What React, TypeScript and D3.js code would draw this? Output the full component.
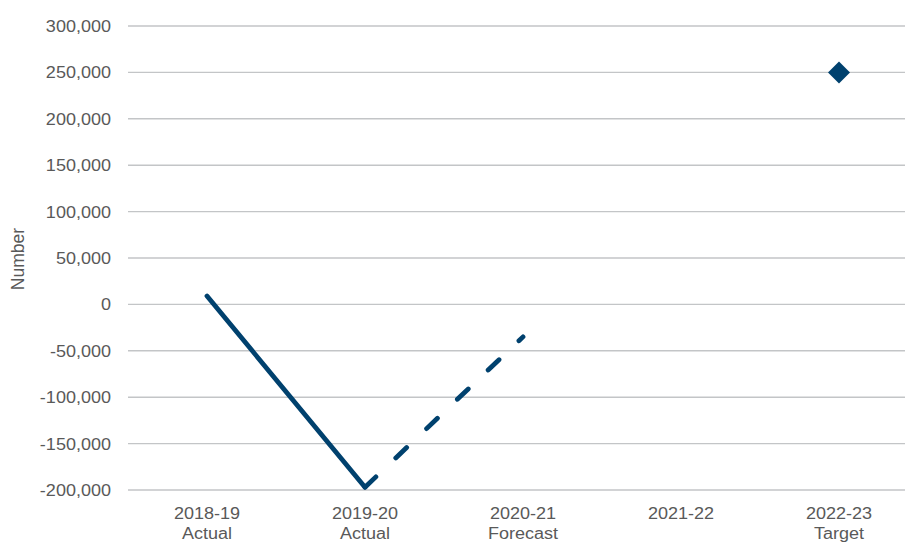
import React from "react";
import * as d3 from "d3";

const categories = ["2018-19|Actual", "2019-20|Actual", "2020-21|Forecast", "2021-22", "2022-23|Target"];
const actualCats = ["2018-19|Actual", "2019-20|Actual"];
const actualValues = [9000, -197000];
const forecastCats = ["2019-20|Actual", "2020-21|Forecast"];
const forecastValues = [-197000, -35000];
const targetCat = "2022-23|Target";
const targetValue = 250000;
const yTicks = [-200000, -150000, -100000, -50000, 0, 50000, 100000, 150000, 200000, 250000, 300000];

const W = 905;
const H = 542;
const BLUE = "#00416e";
const GRID = "#c3c5c7";
const TEXT = "#595959";
const FONT = "'Liberation Sans', Arial, sans-serif";
const STRETCH = 1.1;

export default function App() {
  const x = d3.scaleBand<string>().domain(categories).range([128, 918]).padding(0);
  const y = d3.scaleLinear().domain([-200000, 300000]).range([490, 26]);
  const cx = (c: string) => (x(c) ?? 0) + x.bandwidth() / 2;
  const comma = d3.format(",");
  const fmt = (v: number) => comma(v).replace("\u2212", "-");

  const line = d3
    .line<[string, number]>()
    .x((d) => cx(d[0]))
    .y((d) => y(d[1]));

  const actualPath = line(actualCats.map((c, i) => [c, actualValues[i]]));
  const forecastPath = line(forecastCats.map((c, i) => [c, forecastValues[i]]));
  const diamond = d3.symbol(d3.symbolSquare, 242)();

  return (
    <svg
      width={W}
      height={H}
      style={{ position: "absolute", left: 0, top: 0, background: "#fff" }}
      fontFamily={FONT}
    >
      {/* horizontal gridlines */}
      {yTicks.map((t) => (
        <line key={t} x1={128} x2={W} y1={y(t)} y2={y(t)} stroke={GRID} strokeWidth={1.4} />
      ))}

      {/* y tick labels */}
      {yTicks.map((t) => (
        <text
          key={"l" + t}
          transform={`translate(111,${y(t) + 5.9}) scale(${STRETCH},1)`}
          textAnchor="end"
          fontSize={16.4}
          fill={TEXT}
        >
          {fmt(t)}
        </text>
      ))}

      {/* y axis title */}
      <text
        transform={`translate(24,259) rotate(-90)`}
        textAnchor="middle"
        fontSize={17.5}
        fill={TEXT}
      >
        Number
      </text>

      {/* category labels */}
      {categories.map((c) => {
        const lines = c.split("|");
        return (
          <g key={c} transform={`translate(${cx(c)},519.3) scale(${STRETCH},1)`}>
            {lines.map((s, i) => (
              <text key={i} y={i * 20} textAnchor="middle" fontSize={16.4} fill={TEXT}>
                {s}
              </text>
            ))}
          </g>
        );
      })}

      {/* actual series */}
      <path d={actualPath ?? ""} fill="none" stroke={BLUE} strokeWidth={4.8} strokeLinecap="round" strokeLinejoin="round" />

      {/* forecast series */}
      <path
        d={forecastPath ?? ""}
        fill="none"
        stroke={BLUE}
        strokeWidth={4.8}
        strokeLinecap="round"
        strokeDasharray="15 27.5"
      />

      {/* target marker */}
      <path
        d={diamond ?? ""}
        transform={`translate(${cx(targetCat)},${y(targetValue)}) rotate(45)`}
        fill={BLUE}
      />
    </svg>
  );
}
